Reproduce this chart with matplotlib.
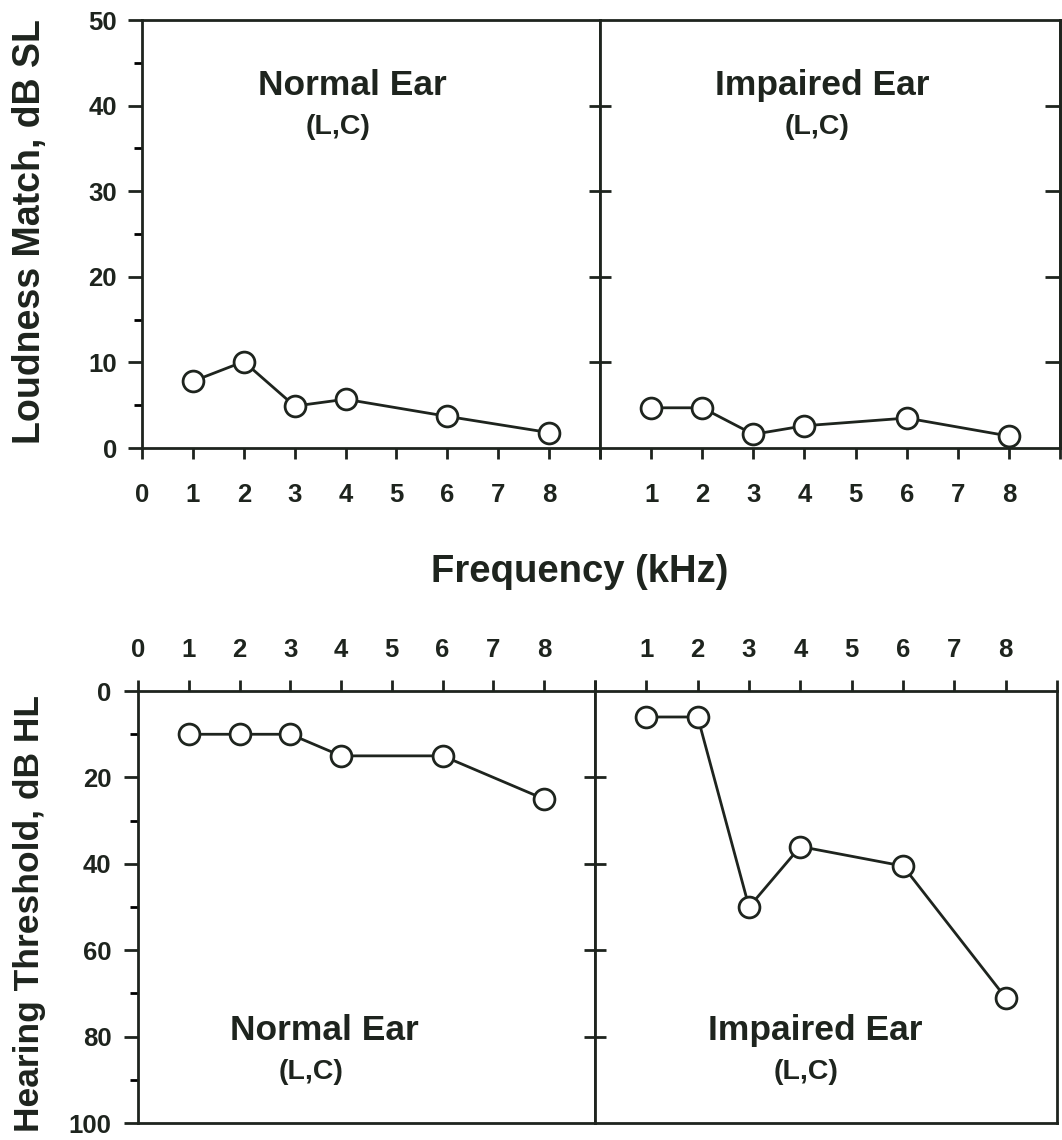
import matplotlib
matplotlib.use("Agg")
import matplotlib.pyplot as plt
from matplotlib.ticker import MultipleLocator, FixedLocator

plt.rcParams['font.family'] = ['Liberation Sans', 'DejaVu Sans']
plt.rcParams['font.weight'] = 'bold'

INK = '#1e241e'

# frequencies (kHz) and results per ear
freqs = [1, 2, 3, 4, 6, 8]
loud_normal = [7.8, 10.1, 4.9, 5.7, 3.7, 1.8]
loud_impaired = [4.7, 4.7, 1.6, 2.6, 3.5, 1.4]
thr_normal = [10, 10, 10, 15, 15, 25]
thr_impaired = [6, 6, 50, 36, 40.5, 71]

xticks = list(range(10))
xlabels_left = ['0', '1', '2', '3', '4', '5', '6', '7', '8', '']
xlabels_right = ['', '1', '2', '3', '4', '5', '6', '7', '8', '']

fig = plt.figure(figsize=(10.62, 11.4), dpi=100)
ax_tl = fig.add_axes([0.1337, 0.6070, 0.4313, 0.3754])
ax_tr = fig.add_axes([0.5650, 0.6070, 0.4331, 0.3754])
ax_bl = fig.add_axes([0.1299, 0.0149, 0.4303, 0.3789])
ax_br = fig.add_axes([0.5603, 0.0149, 0.4350, 0.3789])

line_kw = dict(color=INK, lw=2.0, marker='o', ms=15, mfc='white',
               mec=INK, mew=2.0, clip_on=False, zorder=5)

ax_tl.plot(freqs, loud_normal, **line_kw)
ax_tr.plot(freqs, loud_impaired, **line_kw)
ax_bl.plot(freqs, thr_normal, **line_kw)
ax_br.plot(freqs, thr_impaired, **line_kw)

for ax in (ax_tl, ax_tr, ax_bl, ax_br):
    ax.set_xlim(0, 9)
    for sp in ax.spines.values():
        sp.set_linewidth(2.0)
        sp.set_color(INK)
    ax.xaxis.set_major_locator(FixedLocator(xticks))
    ax.tick_params(colors=INK, labelsize=18.5, width=2.0)

# top row: loudness match
for ax in (ax_tl, ax_tr):
    ax.set_ylim(0, 50)
    ax.tick_params(axis='x', direction='out', length=8, pad=17)

ax_tl.set_xticklabels(xlabels_left)
ax_tr.set_xticklabels(xlabels_right)

ax_tl.yaxis.set_major_locator(MultipleLocator(10))
ax_tl.yaxis.set_minor_locator(MultipleLocator(5))
ax_tl.tick_params(axis='y', which='major', direction='out', length=10, pad=8)
ax_tl.tick_params(axis='y', which='minor', direction='out', length=6, width=2.0)

# divider ticks cross the shared edge, right edge ticks point inward
ax_tr.yaxis.set_major_locator(FixedLocator([10, 20, 30, 40]))
ax_tr.tick_params(axis='y', direction='inout', length=16, left=True,
                  right=False, labelleft=False)
sec = ax_tr.secondary_yaxis('right')
sec.set_yticks([10, 20, 30, 40])
sec.tick_params(direction='in', length=11, width=2.0, colors=INK, labelright=False)
sec.spines['right'].set_linewidth(2.0)
sec.spines['right'].set_color(INK)

# bottom row: hearing threshold (inverted)
for ax in (ax_bl, ax_br):
    ax.set_ylim(100, 0)
    ax.xaxis.tick_top()
    ax.tick_params(axis='x', direction='out', length=8, pad=13)

ax_bl.set_xticklabels(xlabels_left)
ax_br.set_xticklabels(xlabels_right)

ax_bl.yaxis.set_major_locator(MultipleLocator(20))
ax_bl.yaxis.set_minor_locator(MultipleLocator(10))
ax_bl.tick_params(axis='y', which='major', direction='out', length=10, pad=9)
ax_bl.tick_params(axis='y', which='minor', direction='out', length=6, width=2.0)

ax_br.yaxis.set_major_locator(FixedLocator([20, 40, 60, 80]))
ax_br.tick_params(axis='y', direction='inout', length=16, labelleft=False)

# panel captions
title_kw = dict(fontsize=25.5, fontweight='bold', color=INK, ha='center', va='center')
sub_kw = dict(fontsize=20.5, fontweight='bold', color=INK, ha='center', va='center')
ax_tl.text(0.459, 0.848, 'Normal Ear', transform=ax_tl.transAxes, **title_kw)
ax_tl.text(0.428, 0.750, '(L,C)', transform=ax_tl.transAxes, **sub_kw)
ax_tr.text(0.483, 0.848, 'Impaired Ear', transform=ax_tr.transAxes, **title_kw)
ax_tr.text(0.471, 0.750, '(L,C)', transform=ax_tr.transAxes, **sub_kw)
ax_bl.text(0.408, 0.215, 'Normal Ear', transform=ax_bl.transAxes, **title_kw)
ax_bl.text(0.379, 0.118, '(L,C)', transform=ax_bl.transAxes, **sub_kw)
ax_br.text(0.477, 0.215, 'Impaired Ear', transform=ax_br.transAxes, **title_kw)
ax_br.text(0.456, 0.118, '(L,C)', transform=ax_br.transAxes, **sub_kw)

fig.text(0.028, 0.797, 'Loudness Match, dB SL', rotation=90, fontsize=27,
         fontweight='bold', color=INK, ha='center', va='center')
fig.text(0.028, 0.199, 'Hearing Threshold, dB HL', rotation=90, fontsize=25.5,
         fontweight='bold', color=INK, ha='center', va='center')
fig.text(0.546, 0.498, 'Frequency (kHz)', fontsize=27.5, fontweight='bold',
         color=INK, ha='center', va='center')

fig.savefig('out.png', dpi=100)
